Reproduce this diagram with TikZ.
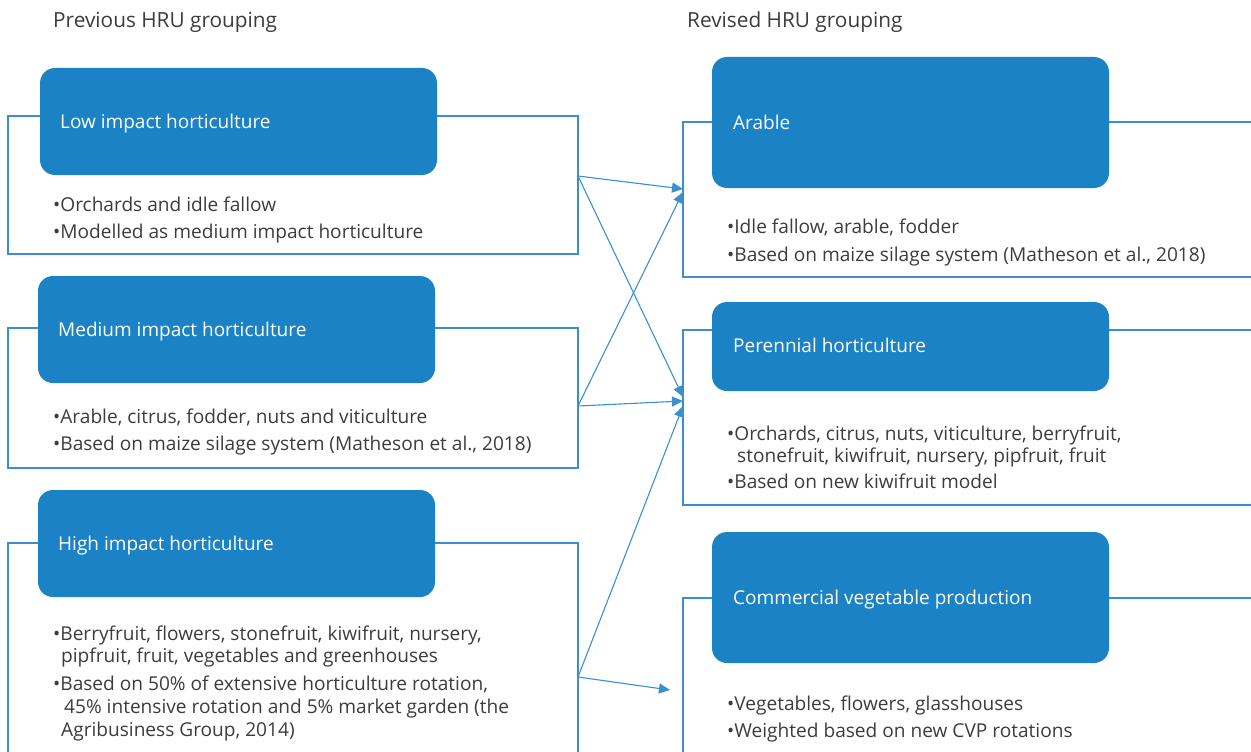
\documentclass[tikz,border=0pt]{standalone}
\usepackage{fontspec}
\setmainfont{Open Sans}
\usetikzlibrary{arrows.meta}
\definecolor{lineblue}{HTML}{3A8FCF}
\definecolor{boxblue}{HTML}{1B82C5}
\definecolor{txtgray}{HTML}{3C3C3C}
\begin{document}
\begin{tikzpicture}[x=1pt,y=-1pt,
  outl/.style={draw=lineblue,line width=1.2pt,inner sep=0pt,outer sep=0pt,anchor=north west},
  hdr/.style={fill=boxblue,rounded corners=15pt,inner sep=0pt,outer sep=0pt,anchor=north west},
  ttl/.style={text=white,font=\fontsize{19}{22}\selectfont,anchor=west,inner sep=0pt,text height=13pt,text depth=4pt,yshift=-2pt},
  bl/.style={text=txtgray,font=\fontsize{19.1}{22}\selectfont,anchor=west,inner sep=0pt,text height=13pt,text depth=4pt,yshift=-2pt},
  head/.style={text=txtgray,font=\fontsize{20.8}{24}\selectfont,anchor=west,inner sep=0pt,text height=14pt,text depth=5pt,yshift=-2pt},
  arr/.style={draw=lineblue,line width=1.1pt,-{Triangle[length=11pt,width=10pt]}}]
\useasboundingbox (0,0) rectangle (1251,752);
\clip (0,0) rectangle (1251,752);
% headings
\node[head] (hl) at (53,21) {Previous HRU grouping};
\node[head] (hr) at (687,21) {Revised HRU grouping};
% outlines
\node[outl,minimum width=570pt,minimum height=138pt] (o1) at (8,116) {};
\node[outl,minimum width=570pt,minimum height=140pt] (o2) at (8,328) {};
\node[outl,minimum width=570pt,minimum height=220pt] (o3) at (8,543) {};
\node[outl,minimum width=580pt,minimum height=155pt] (r1) at (683,122) {};
\node[outl,minimum width=580pt,minimum height=175pt] (r2) at (683,330) {};
\node[outl,minimum width=580pt,minimum height=170pt] (r3) at (683,598) {};
% header boxes
\node[hdr,minimum width=397pt,minimum height=107pt] (h1) at (40,68) {};
\node[hdr,minimum width=397pt,minimum height=107pt] (h2) at (38,276) {};
\node[hdr,minimum width=397pt,minimum height=107pt] (h3) at (38,490) {};
\node[hdr,minimum width=397pt,minimum height=131pt] (g1) at (712,57) {};
\node[hdr,minimum width=397pt,minimum height=89pt] (g2) at (712,302) {};
\node[hdr,minimum width=397pt,minimum height=131pt] (g3) at (712,532) {};
% titles
\node[ttl] (t1) at (60,122) {Low impact horticulture};
\node[ttl] (t2) at (58,330) {Medium impact horticulture};
\node[ttl] (t3) at (58,544) {High impact horticulture};
\node[ttl] (u1) at (733,123) {Arable};
\node[ttl] (u2) at (733,346) {Perennial horticulture};
\node[ttl] (u3) at (733,598) {Commercial vegetable production};
% bullets left
\node[bl] (a1) at (53,205) {•Orchards and idle fallow};
\node[bl] (a2) at (53,232) {•Modelled as medium impact horticulture};
\node[bl] (b1) at (53,417) {•Arable, citrus, fodder, nuts and viticulture};
\node[bl] (b2) at (53,444) {•Based on maize silage system (Matheson et al., 2018)};
\node[bl] (c1) at (53,634) {•Berryfruit, flowers, stonefruit, kiwifruit, nursery,};
\node[bl] (c2) at (61,656) {pipfruit, fruit, vegetables and greenhouses};
\node[bl] (c3) at (53,684) {•Based on 50\% of extensive horticulture rotation,};
\node[bl] (c4) at (64,707) {45\% intensive rotation and 5\% market garden (the};
\node[bl] (c5) at (61,730) {Agribusiness Group, 2014)};
% bullets right
\node[bl] (d1) at (727,227) {•Idle fallow, arable, fodder};
\node[bl] (d2) at (727,255) {•Based on maize silage system (Matheson et al., 2018)};
\node[bl] (e1) at (727,434) {•Orchards, citrus, nuts, viticulture, berryfruit,};
\node[bl] (e2) at (737,456) {stonefruit, kiwifruit, nursery, pipfruit, fruit};
\node[bl] (e3) at (727,482) {•Based on new kiwifruit model};
\node[bl] (f1) at (727,704) {•Vegetables, flowers, glasshouses};
\node[bl] (f2) at (727,731) {•Weighted based on new CVP rotations};
% connector points
\coordinate (s1) at (578,176);
\coordinate (s2) at (578,406);
\coordinate (s3) at (578,677);
\coordinate (e1a) at (683,189);
\coordinate (e1b) at (683,192);
\coordinate (e2a) at (683,397);
\coordinate (e2b) at (683,401);
\coordinate (e2c) at (683,406);
\coordinate (e3) at (670,690);
\draw[arr] (s1) -- (e1a);
\draw[arr] (s1) -- (e2a);
\draw[arr] (s2) -- (e1b);
\draw[arr] (s2) -- (e2b);
\draw[arr] (s3) -- (e2c);
\draw[arr] (s3) -- (e3);
\end{tikzpicture}
\end{document}
